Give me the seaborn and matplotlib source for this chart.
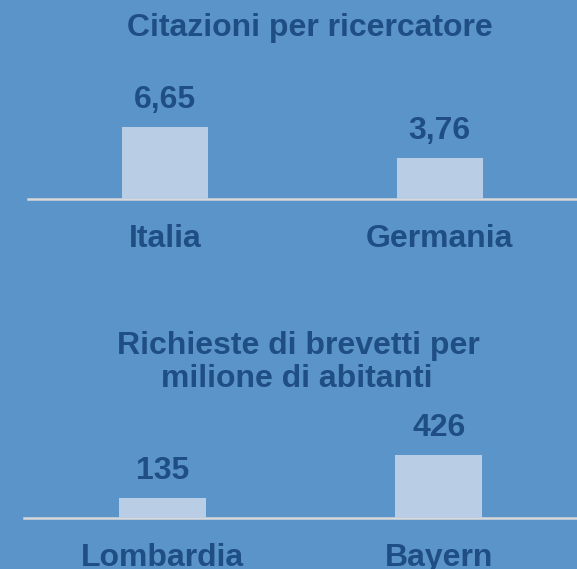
import numpy as np
import pandas as pd
import seaborn as sns
import matplotlib.pyplot as plt

# dati
paesi = ["Italia", "Germania"]
citazioni = [6.65, 3.76]
etichette_citazioni = ["6,65", "3,76"]

regioni = ["Lombardia", "Bayern"]
brevetti = [135, 426]
etichette_brevetti = ["135", "426"]

# colori
SFONDO = "#5B94C9"
BARRE = "#B9CDE4"
TESTO = "#1F4E85"
ASSE = "#D9D9D9"

sns.set_style("white")
plt.rcParams["font.family"] = ["Liberation Sans", "DejaVu Sans"]
plt.rcParams["font.weight"] = "bold"

W, H = 577, 569
fig = plt.figure(figsize=(W / 100, H / 100), dpi=100, facecolor=SFONDO)


def pannello(x0, base, altezza, cats, vals, labels, ytop):
    ax = fig.add_axes([x0 / W, (H - base) / H, (W - x0) / W, altezza / H])
    ax.set_facecolor(SFONDO)
    df = pd.DataFrame({"cat": cats, "val": vals})
    sns.barplot(data=df, x="cat", y="val", color=BARRE, width=0.313,
                saturation=1, edgecolor=BARRE, linewidth=0, ax=ax)
    ax.set_xlim(-0.5, 1.5)
    ax.set_ylim(0, ytop)
    for i, (v, lab) in enumerate(zip(vals, labels)):
        ax.annotate(lab, (i, v), xytext=(0, 19.5), textcoords="offset points",
                    ha="center", va="center", fontsize=23,
                    fontweight="bold", color=TESTO)
    for s in ["top", "left", "right"]:
        ax.spines[s].set_visible(False)
    ax.spines["bottom"].set_color(ASSE)
    ax.spines["bottom"].set_linewidth(1.8)
    ax.spines["bottom"].set_zorder(0.5)
    ax.set_yticks([])
    ax.set_xlabel("")
    ax.set_ylabel("")
    ax.tick_params(axis="x", length=0, pad=18, labelsize=23,
                   labelcolor=TESTO)
    for t in ax.get_xticklabels():
        t.set_fontweight("bold")
    return ax


# pannello superiore
pannello(28, 199, 130, paesi, citazioni, etichette_citazioni, 130 / 10.8)
fig.text(310 / W, 1 - 28 / H, "Citazioni per ricercatore", ha="center",
         va="center", fontsize=23, fontweight="bold", color=TESTO)

# pannello inferiore
pannello(24, 518, 100, regioni, brevetti, etichette_brevetti, 100 / 0.1479)
fig.text(298 / W, 1 - 346 / H, "Richieste di brevetti per", ha="center",
         va="center", fontsize=23, fontweight="bold", color=TESTO)
fig.text(297 / W, 1 - 379 / H, "milione di abitanti", ha="center",
         va="center", fontsize=23, fontweight="bold", color=TESTO)

fig.savefig("out.png", dpi=100, facecolor=SFONDO)
